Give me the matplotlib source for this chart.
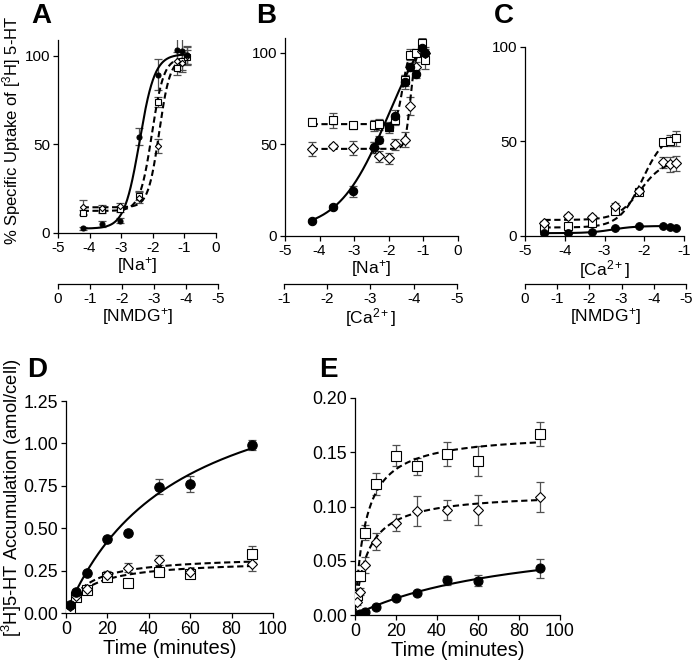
import numpy as np
import matplotlib
matplotlib.use("Agg")
import matplotlib.pyplot as plt

plt.rcParams['font.family'] = ['Liberation Sans', 'DejaVu Sans']
plt.rcParams['mathtext.fontset'] = 'custom'
plt.rcParams['mathtext.rm'] = 'Liberation Sans'
plt.rcParams['mathtext.it'] = 'Liberation Sans:italic'
plt.rcParams['mathtext.bf'] = 'Liberation Sans:bold'
plt.rcParams['axes.unicode_minus'] = False

# ---------------- data ----------------
# Panel A: log[Na+] (bottom) / log[NMDG+] (secondary)
a_x = [-4.22, -3.62, -3.04, -2.44, -1.85, -1.24, -1.09, -0.93]
a_circ = [2.6, 5.0, 7.0, 54.5, 89.5, 103.5, 103.0, 100.5]
a_circ_err = [0.8, 1.5, 1.5, 5.0, 8.5, 9.0, 7.0, 5.0]
a_sq = [11.5, 13.0, 13.5, 21.0, 74.0, 93.0, 97.0, 99.5]
a_sq_err = [1.5, 1.5, 1.5, 2.5, 3.0, 4.0, 5.0, 4.0]
a_dia = [14.8, 14.0, 15.0, 20.0, 49.0, 97.0, 96.0, 100.0]
a_dia_err = [4.0, 2.0, 2.0, 3.0, 4.0, 5.0, 5.0, 5.0]
# sigmoid fit parameters: bottom, top, logEC50, hill
a_fit_circ = [2.5, 101.0, -2.42, 1.8]
a_fit_sq = [12.5, 99.0, -2.03, 2.3]
a_fit_dia = [14.5, 99.0, -1.80, 2.5]

# Panel B: log[Na+] / log[Ca2+]
b_x = [-4.23, -3.62, -3.03, -2.42, -2.29, -2.0, -1.82, -1.53, -1.38, -1.22, -1.05, -0.95]
b_circ = [8.4, 15.7, 24.4, 48.5, 52.5, 59.4, 65.6, 84.0, 92.2, 88.4, 102.6, 99.8]
b_circ_err = [1.0, 1.0, 3.0, 3.0, 2.0, 3.0, 3.0, 4.0, 2.0, 2.0, 3.0, 2.0]
b_sq = [62.3, 63.0, 60.3, 60.3, 61.0, 59.2, 63.5, 85.0, 98.9, 100.0, 105.0, 96.0]
b_sq_err = [2.0, 4.0, 2.0, 3.0, 3.0, 2.0, 3.0, 3.0, 3.0, 2.0, 3.0, 5.0]
b_dia = [47.4, 49.2, 48.0, 48.0, 43.4, 42.4, 50.0, 52.5, 71.0, 92.0, 101.0, 100.0]
b_dia_err = [4.0, 1.0, 4.0, 3.0, 3.0, 3.0, 3.0, 4.0, 5.0, 3.0, 3.0, 3.0]
b_fit_circ = [3.0, 130.0, -2.0, 0.6]
b_fit_sq = [61.0, 101.0, -1.60, 5.0]
b_fit_dia = [47.5, 101.0, -1.38, 6.0]

# Panel C: log[Ca2+] / log[NMDG+]
c_x = [-4.51, -3.93, -3.32, -2.74, -2.13, -1.54, -1.35, -1.21]
c_circ = [1.4, 1.8, 2.3, 4.4, 5.3, 5.5, 4.9, 4.1]
c_circ_err = [0.5, 0.5, 0.5, 0.5, 0.5, 0.5, 0.5, 0.5]
c_sq = [4.1, 5.3, 7.0, 13.2, 23.4, 49.9, 50.5, 51.7]
c_sq_err = [1.0, 1.0, 1.0, 1.5, 1.5, 1.5, 3.0, 4.0]
c_dia = [6.7, 10.6, 10.2, 15.9, 23.9, 39.0, 38.0, 38.5]
c_dia_err = [1.0, 1.0, 1.0, 1.5, 1.5, 3.0, 4.0, 4.0]
c_fit_circ = [1.5, 5.3, -2.8, 1.5]
c_fit_sq = [4.5, 55.0, -2.05, 1.5]
c_fit_dia = [8.5, 40.0, -2.10, 1.5]

# Panel D: time course (amol/cell)
d_t = [2, 5, 10, 20, 30, 45, 60, 90]
d_circ = [0.047, 0.126, 0.238, 0.434, 0.47, 0.745, 0.76, 0.99]
d_circ_err = [0.01, 0.01, 0.01, 0.01, 0.01, 0.045, 0.045, 0.03]
d_sq = [0.03, 0.096, 0.135, 0.214, 0.179, 0.244, 0.228, 0.348]
d_sq_err = [0.01, 0.01, 0.01, 0.01, 0.01, 0.01, 0.01, 0.045]
d_dia = [0.04, 0.10, 0.14, 0.224, 0.267, 0.313, 0.24, 0.289]
d_dia_err = [0.01, 0.01, 0.01, 0.025, 0.025, 0.03, 0.01, 0.04]
# hyperbolic fit parameters: Bmax, K
d_fit_circ = [1.55, 53.5]
d_fit_sq = [0.312, 11.35]
d_fit_dia = [0.337, 10.1]

# Panel E
e_t = [1, 2.5, 5, 10, 20, 30, 45, 60, 90]
e_circ = [0.0003, 0.0008, 0.003, 0.0075, 0.0155, 0.020, 0.032, 0.0315, 0.043]
e_circ_err = [0.0, 0.0, 0.001, 0.001, 0.001, 0.001, 0.004, 0.005, 0.009]
e_sq = [0.018, 0.036, 0.076, 0.121, 0.147, 0.137, 0.148, 0.142, 0.167]
e_sq_err = [0.004, 0.005, 0.007, 0.010, 0.010, 0.008, 0.011, 0.014, 0.011]
e_dia = [0.012, 0.0215, 0.046, 0.0676, 0.085, 0.0958, 0.0968, 0.0968, 0.1085]
e_dia_err = [0.003, 0.003, 0.007, 0.008, 0.008, 0.014, 0.009, 0.014, 0.014]
e_fit_circ = [0.0805, 84.5]
e_fit_sq = [0.168, 5.0]
e_fit_dia = [0.113, 6.0]

W, H = 693, 662
fig = plt.figure(figsize=(W / 100, H / 100), dpi=100)


def px_axes(l, t, r, b):
    return fig.add_axes([l / W, 1 - b / H, (r - l) / W, (b - t) / H])


def sigmoid(x, p):
    bot, top, x50, h = p
    return bot + (top - bot) / (1 + 10 ** ((x50 - x) * h))


def hyper(x, p):
    bmax, k = p
    return bmax * x / (k + x)


ECOL = '#505050'


def style(ax, fs):
    for s in ['top', 'right']:
        ax.spines[s].set_visible(False)
    for s in ['left', 'bottom']:
        ax.spines[s].set_linewidth(0.9)
    ax.tick_params(direction='out', length=3.5, width=0.9, labelsize=fs, pad=2)


def draw_series(ax, x, y, e, marker, ms, face, ls, fitfun, params, xr):
    xs = np.linspace(xr[0], xr[1], 300)
    ax.plot(xs, fitfun(xs, params), color='black', lw=1.5,
            ls=ls, zorder=3)
    ax.errorbar(x, y, yerr=e, fmt='none', ecolor=ECOL, elinewidth=0.9,
                capsize=3, capthick=0.9, zorder=2)
    ax.plot(x, y, ls='none', marker=marker, ms=ms, mfc=face, mec='black',
            mew=0.8, zorder=4)


def secondary(l, r, y, lim, ticks, label, fs_tick, fs_lab):
    ax2 = fig.add_axes([l / W, 1 - y / H, (r - l) / W, 0.0001])
    for s in ['top', 'right', 'left']:
        ax2.spines[s].set_visible(False)
    ax2.spines['bottom'].set_linewidth(0.9)
    ax2.set_yticks([])
    ax2.set_xlim(*lim)
    ax2.set_xticks(ticks)
    ax2.set_xticklabels([str(t) for t in ticks])
    ax2.tick_params(direction='out', length=3.5, width=0.9, labelsize=fs_tick, pad=2)
    ax2.set_xlabel(label, fontsize=fs_lab, labelpad=0)
    ax2.patch.set_visible(False)
    return ax2


dash = (0, (3.0, 1.7))
FS_T, FS_L = 11, 12.5

# ---------- Panel A ----------
axA = px_axes(58, 40, 216, 233)
style(axA, FS_T)
xr = (min(a_x), max(a_x))
draw_series(axA, a_x, a_sq, a_sq_err, 's', 3.8, 'white', dash, sigmoid, a_fit_sq, xr)
draw_series(axA, a_x, a_dia, a_dia_err, 'D', 3.2, 'white', dash, sigmoid, a_fit_dia, xr)
draw_series(axA, a_x, a_circ, a_circ_err, 'o', 3.6, 'black', '-', sigmoid, a_fit_circ, xr)
axA.set_xlim(-5, 0)
axA.set_ylim(0, 109)
axA.set_xticks([-5, -4, -3, -2, -1, 0])
axA.set_yticks([0, 50, 100])
axA.set_xlabel(r'[Na$^{+}$]', fontsize=FS_L, labelpad=0)
secondary(58, 218, 284, (0, -5), [0, -1, -2, -3, -4, -5], r'[NMDG$^{+}$]', FS_T, FS_L)

# ---------- Panel B ----------
axB = px_axes(285, 38, 458, 236)
style(axB, FS_T)
xr = (min(b_x), max(b_x))
draw_series(axB, b_x, b_sq, b_sq_err, 's', 6.0, 'white', dash, sigmoid, b_fit_sq, xr)
draw_series(axB, b_x, b_dia, b_dia_err, 'D', 5.0, 'white', dash, sigmoid, b_fit_dia, xr)
draw_series(axB, b_x, b_circ, b_circ_err, 'o', 6.0, 'black', '-', sigmoid, b_fit_circ, xr)
axB.set_xlim(-5, 0)
axB.set_ylim(0, 108)
axB.set_xticks([-5, -4, -3, -2, -1, 0])
axB.set_yticks([0, 50, 100])
axB.set_xlabel(r'[Na$^{+}$]', fontsize=FS_L, labelpad=0)
secondary(284, 457, 284, (-1, -5), [-1, -2, -3, -4, -5], r'[Ca$^{2+}$]', FS_T, FS_L)

# ---------- Panel C ----------
axC = px_axes(525, 47, 684, 236)
style(axC, FS_T)
xr = (min(c_x), max(c_x))
draw_series(axC, c_x, c_sq, c_sq_err, 's', 6.0, 'white', dash, sigmoid, c_fit_sq, xr)
draw_series(axC, c_x, c_dia, c_dia_err, 'D', 5.5, 'white', dash, sigmoid, c_fit_dia, xr)
draw_series(axC, c_x, c_circ, c_circ_err, 'o', 5.5, 'black', '-', sigmoid, c_fit_circ, xr)
axC.set_xlim(-5, -1)
axC.set_ylim(0, 100)
axC.set_xticks([-5, -4, -3, -2, -1])
axC.set_yticks([0, 50, 100])
axC.set_xlabel(r'[Ca$^{2+}$]', fontsize=FS_L, labelpad=0)
secondary(525, 686, 284, (0, -5), [0, -1, -2, -3, -4, -5], r'[NMDG$^{+}$]', FS_T, FS_L)

# ---------- Panel D ----------
FS_T2, FS_L2 = 12.8, 14.5
axD = px_axes(66, 401, 273, 613)
style(axD, FS_T2)
xr = (0, 90)
draw_series(axD, d_t, d_sq, d_sq_err, 's', 6.5, 'white', dash, hyper, d_fit_sq, xr)
draw_series(axD, d_t, d_dia, d_dia_err, 'D', 5.5, 'white', dash, hyper, d_fit_dia, xr)
draw_series(axD, d_t, d_circ, d_circ_err, 'o', 6.8, 'black', '-', hyper, d_fit_circ, xr)
axD.set_xlim(0, 100)
axD.set_ylim(0, 1.25)
axD.set_xticks([0, 20, 40, 60, 80, 100])
axD.set_yticks([0, 0.25, 0.5, 0.75, 1.0, 1.25])
axD.set_yticklabels(['0.00', '0.25', '0.50', '0.75', '1.00', '1.25'])
axD.set_xlabel('Time (minutes)', fontsize=FS_L2, labelpad=1)

# ---------- Panel E ----------
axE = px_axes(355, 398, 560, 615)
style(axE, FS_T2)
draw_series(axE, e_t, e_sq, e_sq_err, 's', 6.5, 'white', dash, hyper, e_fit_sq, xr)
draw_series(axE, e_t, e_dia, e_dia_err, 'D', 5.5, 'white', dash, hyper, e_fit_dia, xr)
draw_series(axE, e_t, e_circ, e_circ_err, 'o', 6.5, 'black', '-', hyper, e_fit_circ, xr)
axE.set_xlim(0, 100)
axE.set_ylim(0, 0.20)
axE.set_xticks([0, 20, 40, 60, 80, 100])
axE.set_yticks([0, 0.05, 0.10, 0.15, 0.20])
axE.set_yticklabels(['0.00', '0.05', '0.10', '0.15', '0.20'])
axE.set_xlabel('Time (minutes)', fontsize=FS_L2, labelpad=1)

for ax in (axA, axB, axC, axD, axE):
    ax.patch.set_visible(False)

# y labels
fig.text(12 / W, 1 - 130 / H, r'% Specific Uptake of [$^{3}$H] 5-HT', rotation=90,
         ha='center', va='center', fontsize=12)
fig.text(12 / W, 1 - 498 / H, r'[$^{3}$H]5-HT Accumulation (amol/cell)', rotation=90,
         ha='center', va='center', fontsize=13.2)

# panel letters
for lab, lx, ly in [('A', 31, 23), ('B', 256, 23), ('C', 494, 23), ('D', 27, 377), ('E', 319, 377)]:
    fig.text(lx / W, 1 - ly / H, lab, fontsize=20, fontweight='bold', ha='left', va='baseline')

fig.savefig('out.png', dpi=100)
